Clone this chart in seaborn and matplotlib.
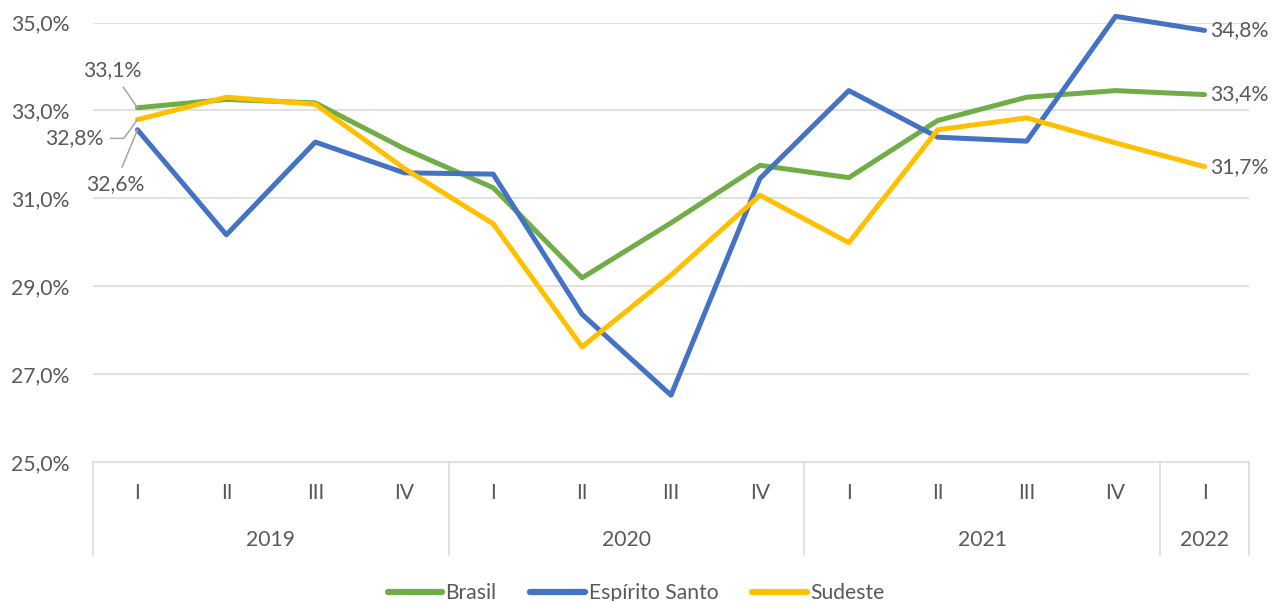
import pandas as pd
import matplotlib.pyplot as plt
import seaborn as sns
from matplotlib import transforms
from matplotlib.ticker import FuncFormatter

quarters = ["I", "II", "III", "IV"] * 3 + ["I"]
years = ["2019", "2020", "2021", "2022"]
year_sizes = [4, 4, 4, 1]

brasil = [33.06, 33.25, 33.17, 32.13, 31.24, 29.19, 30.44, 31.75, 31.47, 32.77, 33.30, 33.45, 33.36]
espirito_santo = [32.56, 30.17, 32.28, 31.58, 31.55, 28.36, 26.52, 31.45, 33.45, 32.39, 32.30, 35.14, 34.82]
sudeste = [32.79, 33.30, 33.14, 31.68, 30.42, 27.62, 29.25, 31.07, 29.99, 32.56, 32.83, 32.26, 31.72]

series = {"Brasil": brasil, "Espírito Santo": espirito_santo, "Sudeste": sudeste}
colors = {"Brasil": "#70AD47", "Espírito Santo": "#4472C4", "Sudeste": "#FFC000"}

df = pd.concat(
    [pd.DataFrame({"pos": range(len(v)), "valor": v, "serie": k}) for k, v in series.items()],
    ignore_index=True,
)

sns.set_style("white")
plt.rcParams["font.family"] = ["Lato", "DejaVu Sans"]
TXT = "#595959"
GRID = "#D9D9D9"
FS = 15.2


def pct(v):
    return f"{v:.1f}".replace(".", ",") + "%"


fig = plt.figure(figsize=(12.72, 6.01), dpi=100)
ax = fig.add_axes([93 / 1272, 1 - 462 / 601, (1249 - 93) / 1272, (462 - 22.5) / 601])

sns.lineplot(data=df, x="pos", y="valor", hue="serie", palette=colors, linewidth=3.6,
             ax=ax, sort=False, legend=True)
for ln in ax.lines:
    ln.set_solid_capstyle("round")
    ln.set_solid_joinstyle("round")
    ln.set_clip_on(False)

ax.set_xlim(-0.5, len(quarters) - 0.5)
ax.set_ylim(25, 35)
ax.set_yticks([25, 27, 29, 31, 33, 35])
ax.yaxis.set_major_formatter(FuncFormatter(lambda v, _: pct(v)))
ax.tick_params(axis="y", length=0, pad=17, labelsize=FS, labelcolor=TXT)
ax.set_xticks([])
ax.set_xlabel("")
ax.set_ylabel("")
for y in [27, 29, 31, 33, 35]:
    ax.axhline(y, color=GRID, lw=1.1, zorder=0)
for s in ["top", "right", "left"]:
    ax.spines[s].set_visible(False)
ax.spines["bottom"].set_color(GRID)
ax.spines["bottom"].set_linewidth(1.1)

# multi-level category axis
trans = transforms.blended_transform_factory(ax.transData, ax.transAxes)
h = 462 - 22.5
for i, q in enumerate(quarters):
    ax.text(i, -31 / h, q, transform=trans, ha="center", va="center", fontsize=FS, color=TXT)
start = 0
bounds = [-0.5]
for yr, n in zip(years, year_sizes):
    ax.text(start + (n - 1) / 2, -78 / h, yr, transform=trans, ha="center", va="center",
            fontsize=FS, color=TXT)
    start += n
    bounds.append(start - 0.5)
for b in bounds:
    ax.plot([b, b], [0, -93 / h], transform=trans, color=GRID, lw=1.1, clip_on=False)

# labels at first point
lead = dict(arrowstyle="-", color="#A6A6A6", lw=1.1, shrinkA=3, shrinkB=0)
ax.annotate(pct(brasil[0]), (0, brasil[0]), xytext=(-18.4, 26.9), textcoords="offset points",
            ha="center", va="center", fontsize=FS, color=TXT, arrowprops=lead)
ax.annotate(pct(sudeste[0]), (0, sudeste[0]), xytext=(-45.7, -13.5), textcoords="offset points",
            ha="center", va="center", fontsize=FS, color=TXT,
            arrowprops=dict(lead, relpos=(1, 0.5), connectionstyle="angle,angleA=0,angleB=54,rad=0"))
ax.annotate(pct(espirito_santo[0]), (0, espirito_santo[0]), xytext=(-16.2, -39.4),
            textcoords="offset points", ha="center", va="center", fontsize=FS, color=TXT,
            arrowprops=lead)

# labels at last point
last = len(quarters) - 1
for k, v in series.items():
    ax.annotate(pct(v[last]), (last, v[last]), xytext=(4.3, 0), textcoords="offset points",
                ha="left", va="center", fontsize=FS, color=TXT)

handles, labels = ax.get_legend_handles_labels()
ax.get_legend().remove()
for hd in handles:
    hd.set_linewidth(4.5)
    hd.set_solid_capstyle("round")
leg = fig.legend(handles, labels, loc="lower center", bbox_to_anchor=(0.5, -0.026), ncol=3,
                 frameon=False, fontsize=FS, handlelength=2.6, handletextpad=0.15,
                 columnspacing=1.6, borderpad=0.15)
for t in leg.get_texts():
    t.set_color(TXT)

fig.savefig("out.png", dpi=100)
